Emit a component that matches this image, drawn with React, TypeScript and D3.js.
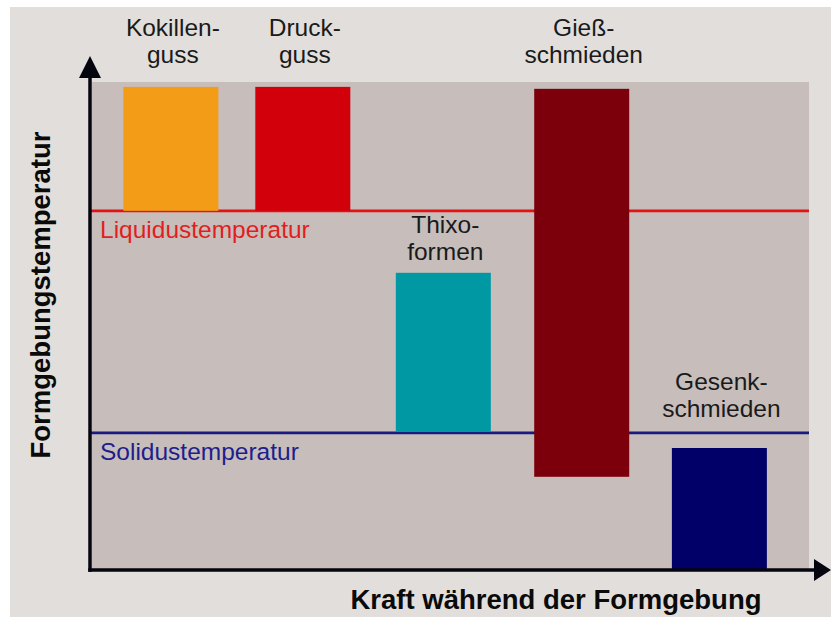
import React from "react";
import * as d3 from "d3";

// ---- data (arbitrary units 0..100) ----
const categories = ["Kokillenguss", "Druckguss", "Thixoformen", "Gießschmieden", "Gesenkschmieden"];
const labelLines = [
  ["Kokillen-", "guss"],
  ["Druck-", "guss"],
  ["Thixo-", "formen"],
  ["Gieß-", "schmieden"],
  ["Gesenk-", "schmieden"],
];
const force = [11.0, 29.4, 49.0, 68.3, 87.5]; // Kraft während der Formgebung
const tempHigh = [99.0, 99.0, 60.9, 98.6, 25.0]; // Formgebungstemperatur oben
const tempLow = [73.6, 73.6, 28.3, 19.1, 0]; // Formgebungstemperatur unten
const barColors = ["#f39c18", "#d1000b", "#0098a3", "#7b000b", "#000068"];
const liquidus = 73.6;
const solidus = 28.1;
const refLines = [
  { name: "Liquidustemperatur", value: liquidus, color: "#e41212", text: "#e21e1e" },
  { name: "Solidustemperatur", value: solidus, color: "#1a1a80", text: "#1e1e8c" },
];
const xTitle = "Kraft während der Formgebung";
const yTitle = "Formgebungstemperatur";

const W = 831;
const H = 617;
const FONT = "'Liberation Sans', Arial, Helvetica, sans-serif";

export default function App() {
  const plot = { left: 92, right: 809, top: 82, bottom: 570 };
  const x = d3.scaleLinear().domain([0, 100]).range([plot.left, plot.right]);
  const y = d3.scaleLinear().domain([0, 100]).range([plot.bottom, plot.top]);
  const barW = 95;

  const labelBaseline = (i: number) => {
    const top = y(tempHigh[i]);
    if (top - y(100) < 12) return y(100) - 19;
    for (const r of refLines) {
      const ly = y(r.value);
      if (ly < top && top - ly < 40) return ly - 16;
    }
    return top - 13;
  };

  const axisX = 90;
  const axisY = 570;

  return (
    <svg
      width={W}
      height={H}
      style={{ position: "absolute", left: 0, top: 0, display: "block" }}
      fontFamily={FONT}
    >
      <rect x={0} y={0} width={W} height={H} fill="#ffffff" />
      <rect x={10} y={7} width={W - 10} height={H - 7} fill="#e2dedb" />
      <rect
        x={plot.left}
        y={plot.top}
        width={plot.right - plot.left}
        height={plot.bottom - plot.top}
        fill="#c7bdba"
      />

      {/* reference lines (behind bars) */}
      {refLines.map((r) => (
        <g key={r.name}>
          <line
            x1={axisX}
            x2={plot.right}
            y1={y(r.value)}
            y2={y(r.value)}
            stroke={r.color}
            strokeWidth={2.7}
          />
          <text x={100} y={y(r.value) + 27} fontSize={24.5} fill={r.text}>
            {r.name}
          </text>
        </g>
      ))}

      {/* bars */}
      {categories.map((c, i) => (
        <rect
          key={c}
          x={x(force[i]) - barW / 2}
          y={y(tempHigh[i])}
          width={barW}
          height={y(tempLow[i]) - y(tempHigh[i])}
          fill={barColors[i]}
        />
      ))}

      {/* category labels */}
      {categories.map((c, i) => {
        const b = labelBaseline(i);
        const cx = x(force[i]) + 2;
        return (
          <text key={c + "-l"} fontSize={24.5} fill="#1a1a1a" textAnchor="middle">
            <tspan x={cx} y={b - 27}>
              {labelLines[i][0]}
            </tspan>
            <tspan x={cx} y={b}>
              {labelLines[i][1]}
            </tspan>
          </text>
        );
      })}

      {/* axes */}
      <line x1={axisX} x2={axisX} y1={axisY + 1.75} y2={76} stroke="#05050f" strokeWidth={3.5} />
      <path d={`M${axisX},56 L${axisX - 11},78 L${axisX + 11},78 Z`} fill="#05050f" />
      <line x1={axisX - 1.75} x2={816} y1={axisY} y2={axisY} stroke="#05050f" strokeWidth={3.5} />
      <path d={`M831,${axisY} L814,${axisY - 11} L814,${axisY + 11} Z`} fill="#05050f" />

      {/* axis titles */}
      <text
        x={556}
        y={609}
        fontSize={27.5}
        fontWeight="bold"
        textAnchor="middle"
        fill="#0a0a0a"
      >
        {xTitle}
      </text>
      <text
        transform="translate(50,295) rotate(-90)"
        fontSize={27.5}
        fontWeight="bold"
        textAnchor="middle"
        fill="#0a0a0a"
      >
        {yTitle}
      </text>
    </svg>
  );
}
